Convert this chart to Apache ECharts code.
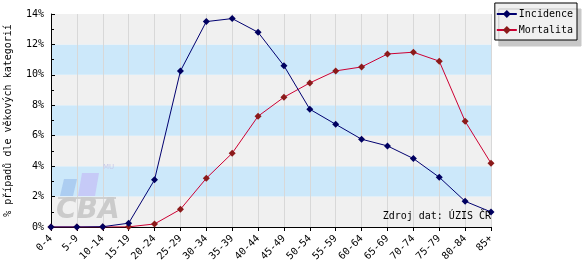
<!DOCTYPE html>
<html><head><meta charset="utf-8">
<script src="https://cdn.jsdelivr.net/npm/echarts@6/dist/echarts.min.js"></script>
<style>html,body{margin:0;padding:0;background:#fff}#c{width:584px;height:274px}</style>
</head><body><div id="c"></div>
<script>
var categories = ['0-4','5-9','10-14','15-19','20-24','25-29','30-34','35-39','40-44','45-49','50-54','55-59','60-64','65-69','70-74','75-79','80-84','85+'];
var incidence = [0, 0, 0.02, 0.25, 3.1, 10.25, 13.5, 13.7, 12.8, 10.6, 7.74, 6.75, 5.77, 5.33, 4.5, 3.27, 1.69, 0.99];
var mortalita = [0, 0, 0, 0.01, 0.2, 1.16, 3.2, 4.85, 7.28, 8.53, 9.47, 10.26, 10.52, 11.37, 11.49, 10.9, 6.95, 4.19];
var yAxisName = '% případů dle věkových kategorií';
var sourceText = 'Zdroj dat: ÚZIS ČR';

var mono = 'DejaVu Sans Mono';
var chart = echarts.init(document.getElementById('c'), null, {renderer:'canvas'});
chart.setOption({
  animation: false,
  backgroundColor: '#ffffff',
  textStyle: {fontFamily: mono},
  grid: {left: 51, top: 14, width: 440, height: 213, containLabel: false, outerBoundsMode: 'none'},
  legend: {
    orient: 'vertical', right: 7, top: 3,
    padding: [6, 4, 5, 1], itemGap: 6, itemWidth: 20, itemHeight: 10,
    backgroundColor: '#f0f0f0', borderColor: '#000', borderWidth: 1, borderRadius: 0,
    shadowColor: '#c8c8c8', shadowBlur: 0, shadowOffsetX: 4, shadowOffsetY: 6,
    textStyle: {fontFamily: mono, fontSize: 10, color: '#000', padding: [0,0,0,-3]},
    data: ['Incidence', 'Mortalita']
  },
  xAxis: {
    type: 'category', data: categories, boundaryGap: false,
    axisLine: {lineStyle: {color: '#000', width: 1}},
    axisTick: {show: true, length: 4, lineStyle: {color: '#000'}},
    axisLabel: {rotate: 45, fontFamily: mono, fontSize: 10, color: '#000', margin: 10, interval: 0},
    splitLine: {show: true, lineStyle: {color: '#d8d8d8', width: 1}}
  },
  yAxis: {
    type: 'value', min: 0, max: 14, interval: 2,
    name: yAxisName, nameLocation: 'middle', nameGap: 38,
    nameTextStyle: {fontFamily: mono, fontSize: 10, color: '#000'},
    axisLine: {show: true, lineStyle: {color: '#000', width: 1}},
    axisTick: {show: true, inside: true, length: 4, lineStyle: {color: '#000'}},
    minorTick: {show: true, splitNumber: 2, length: 3, lineStyle: {color: '#000'}},
    axisLabel: {formatter: '{value}%', fontFamily: mono, fontSize: 10, color: '#000', margin: 7},
    splitLine: {show: false},
    splitArea: {show: true, areaStyle: {color: ['#f0f0f0', '#cce8fa']}}
  },
  graphic: [
    {type: 'polygon', z: 1, shape: {points: [[64,179],[77,179],[73,196],[60,196]]}, style: {fill: '#a6c8ee', opacity: 0.85}},
    {type: 'polygon', z: 1, shape: {points: [[82,173],[99,173],[95,196],[78,196]]}, style: {fill: '#c4c4f6', opacity: 0.85}},
    {type: 'rect', z: 1, shape: {x: 58, y: 197, width: 58, height: 2}, style: {fill: '#d0d0d0'}},
    {type: 'text', z: 1, left: 103, top: 164, style: {text: 'MU', fontSize: 7, fontFamily: 'DejaVu Sans', fill: '#c8c8e8'}},
    {type: 'text', z: 1, left: 56, top: 197, style: {text: 'CBA', fontSize: 28, fontWeight: 'bold', fontStyle: 'italic', fontFamily: 'DejaVu Sans', fill: '#cbcbcb'}},
    {type: 'text', z: 10, right: 93, top: 211, style: {text: sourceText, fontSize: 10, fontFamily: mono, fill: '#000'}}
  ],
  series: [
    {name: 'Incidence', type: 'line', data: incidence, z: 3,
     symbol: 'diamond', symbolSize: 7, showAllSymbol: true,
     lineStyle: {color: '#000070', width: 1},
     itemStyle: {color: '#000060', borderWidth: 0}},
    {name: 'Mortalita', type: 'line', data: mortalita, z: 2,
     symbol: 'diamond', symbolSize: 7, showAllSymbol: true,
     lineStyle: {color: '#cc0033', width: 1},
     itemStyle: {color: '#8b1a1a', borderWidth: 0}}
  ]
});
</script></body></html>
